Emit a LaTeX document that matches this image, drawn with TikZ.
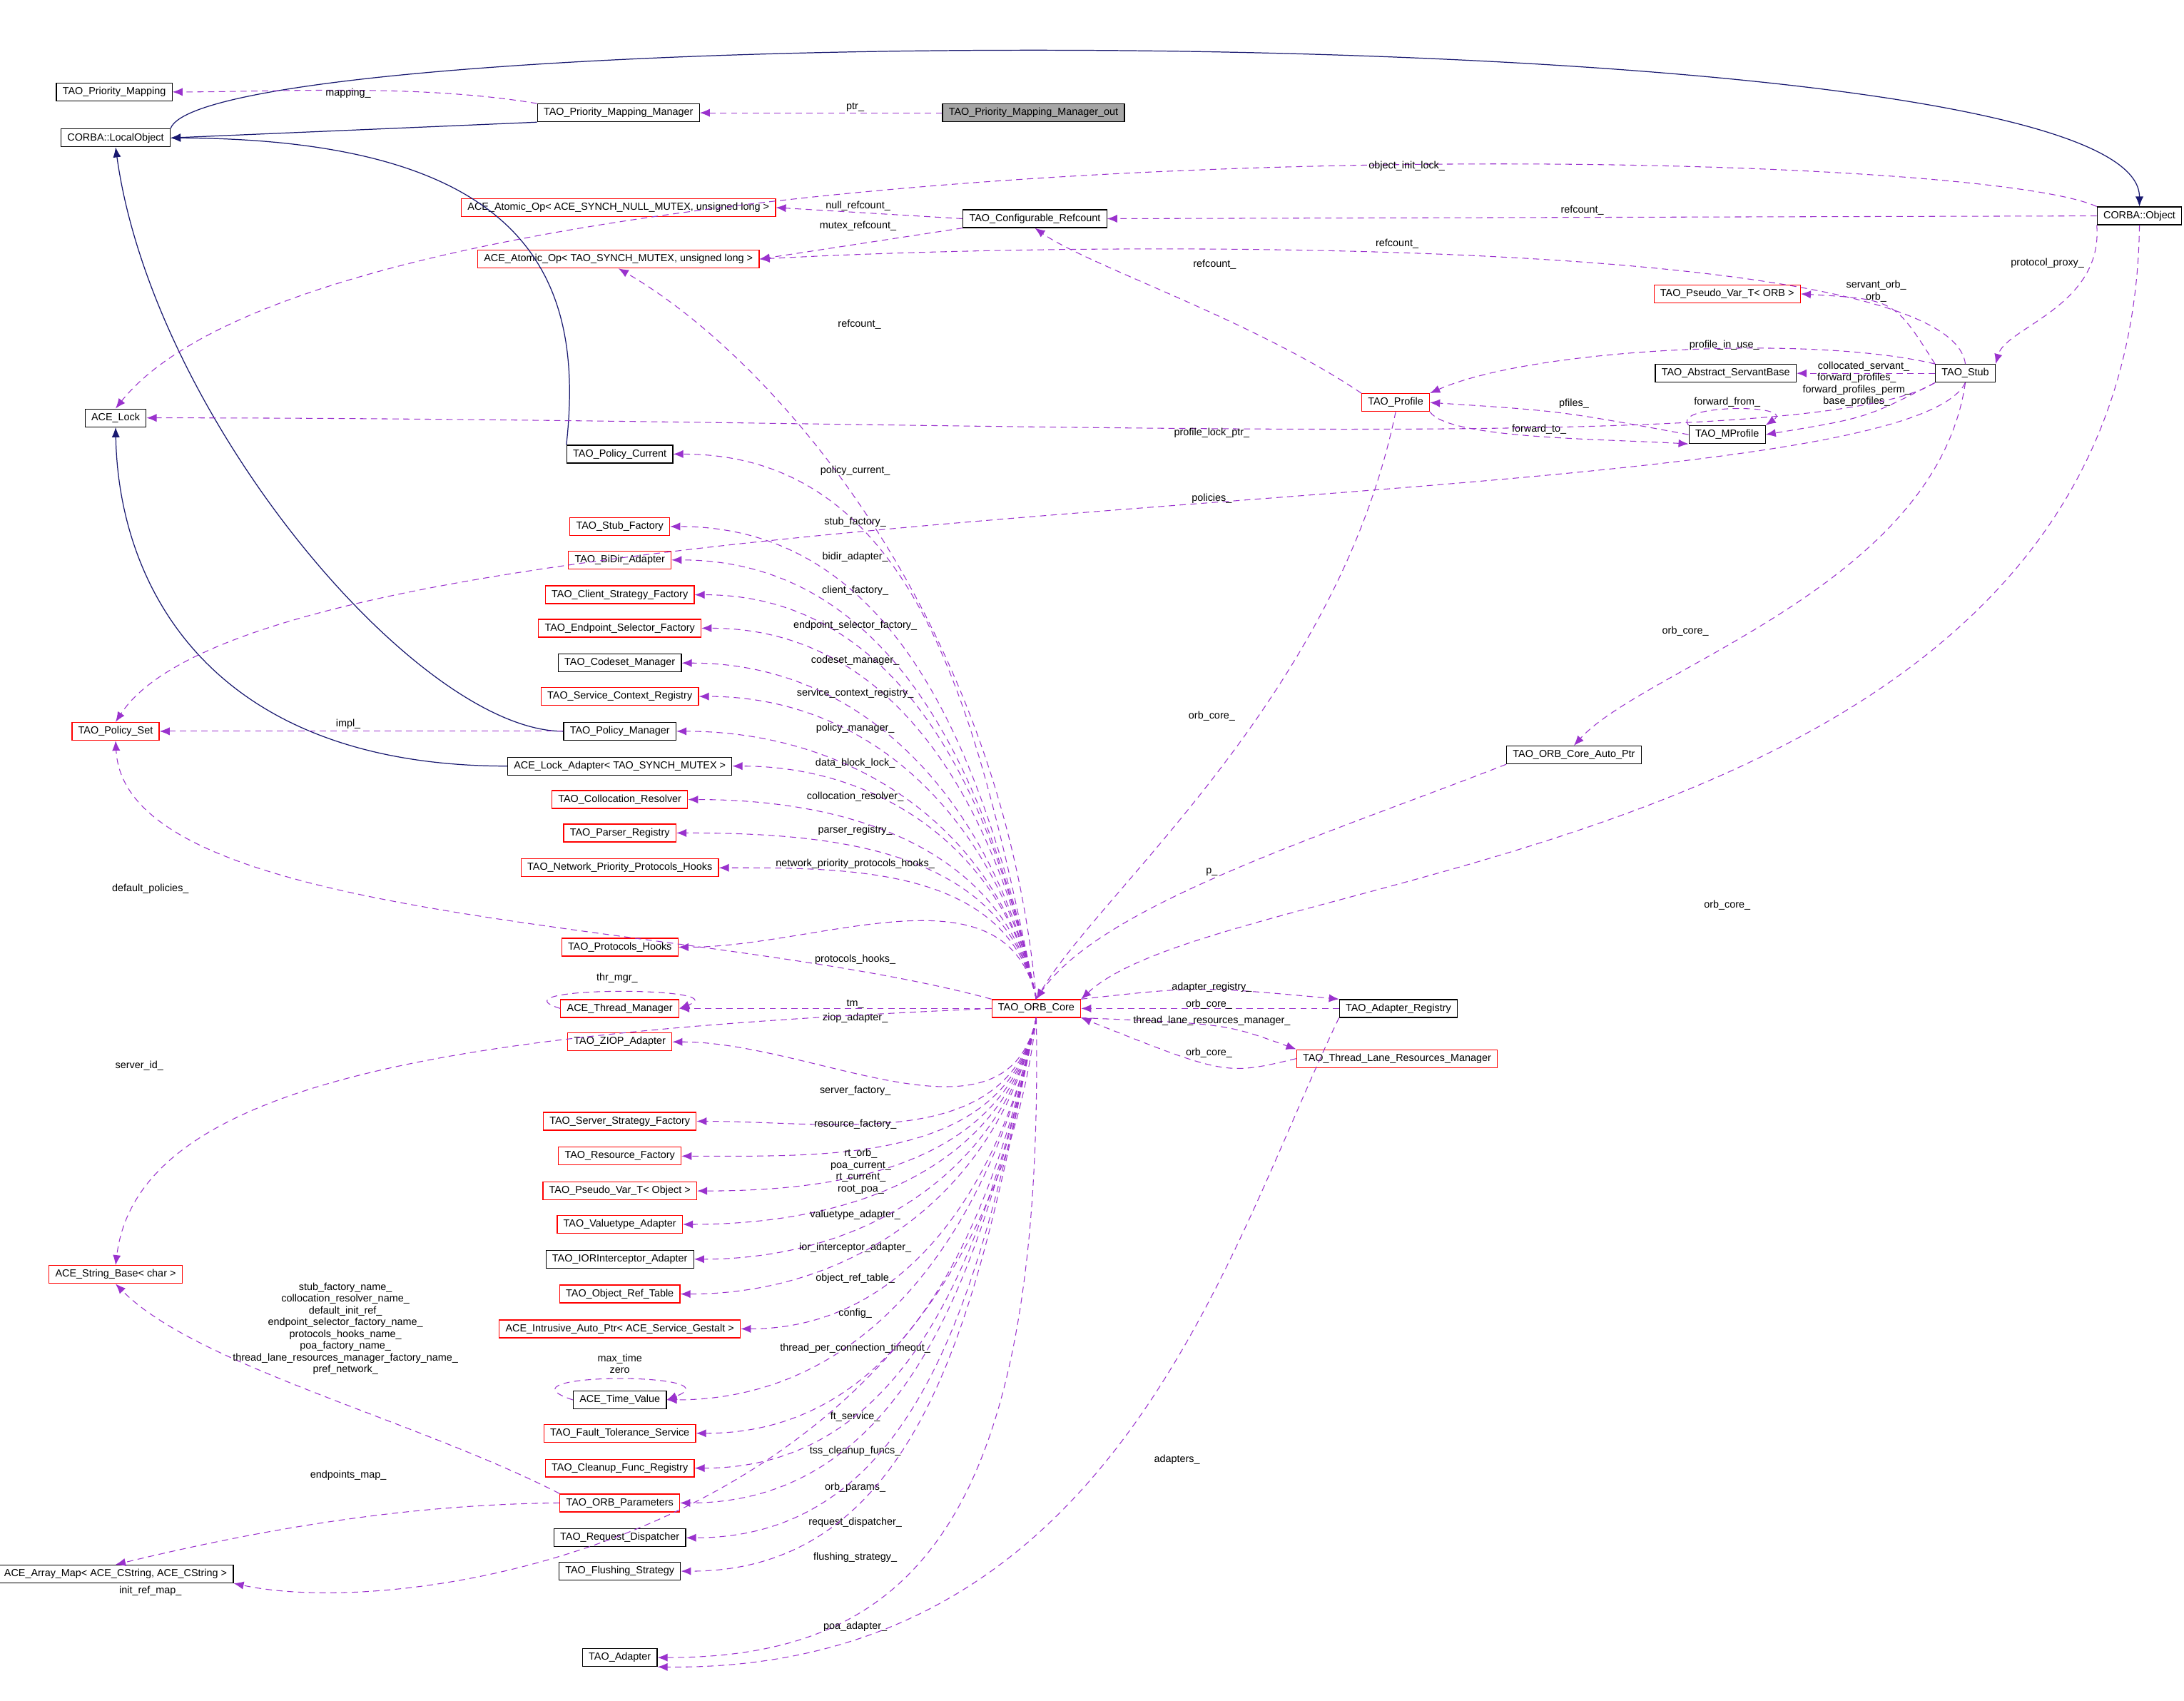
\documentclass[tikz,border=0pt]{standalone}
\usepackage{fontspec}
\setmainfont{Liberation Sans}
\usetikzlibrary{arrows.meta}
\definecolor{navy}{HTML}{191970}
\definecolor{refpurple}{HTML}{9A32CD}
\tikzset{
  cls/.style={draw=black,line width=0.35pt,fill=white,minimum height=0.25cm,inner xsep=2.5pt,inner ysep=0pt,font=\fontsize{4.1}{4.7}\selectfont},
  bad/.style={cls,draw=red},
  outbox/.style={cls,fill=black!35},
  inh/.style={draw=navy,line width=0.35pt,-{Latex[length=4pt,width=3.2pt]}},
  ref/.style={draw=refpurple,line width=0.3pt,dash pattern=on 2.5pt off 1.8pt,-{Latex[length=4pt,width=3.2pt]}},
  lbl/.style={inner sep=0pt,align=center,font=\fontsize{4.1}{4.7}\selectfont}
}
\begin{document}
\catcode`\_=12
\begin{tikzpicture}[x=0.01953cm,y=-0.01953cm]
  \useasboundingbox[fill=white] (0,0) rectangle (1568,1221);

  % classes
  \node[cls] (mapping) at (82,66) {TAO_Priority_Mapping};
  \node[cls] (localobj) at (83,99) {CORBA::LocalObject};
  \node[cls] (mapmgr) at (444,81) {TAO_Priority_Mapping_Manager};
  \node[outbox] (mapout) at (742,81) {TAO_Priority_Mapping_Manager_out};
  \node[bad] (atomnull) at (444,149) {ACE_Atomic_Op< ACE_SYNCH_NULL_MUTEX, unsigned long >};
  \node[cls] (cfgref) at (743,157) {TAO_Configurable_Refcount};
  \node[bad] (atomtao) at (444,186) {ACE_Atomic_Op< TAO_SYNCH_MUTEX, unsigned long >};
  \node[cls] (corbaobj) at (1536,155) {CORBA::Object};
  \node[bad] (pvorb) at (1240,211) {TAO_Pseudo_Var_T< ORB >};
  \node[cls] (servantbase) at (1239,268) {TAO_Abstract_ServantBase};
  \node[cls] (stub) at (1411,268) {TAO_Stub};
  \node[cls] (acelock) at (83,300) {ACE_Lock};
  \node[bad] (profile) at (1002,289) {TAO_Profile};
  \node[cls] (mprofile) at (1240,312) {TAO_MProfile};
  \node[bad] (polset) at (83,525) {TAO_Policy_Set};
  \node[cls] (autoptr) at (1130,542) {TAO_ORB_Core_Auto_Ptr};
  \node[bad] (core) at (744,724) {TAO_ORB_Core};
  \node[cls] (adapreg) at (1004,724) {TAO_Adapter_Registry};
  \node[bad] (tlrm) at (1003,760) {TAO_Thread_Lane_Resources_Manager};
  \node[bad] (strbase) at (83,915) {ACE_String_Base< char >};
  \node[cls] (arraymap) at (83,1130) {ACE_Array_Map< ACE_CString, ACE_CString >};
  \node[cls] (adapter) at (445,1190) {TAO_Adapter};
  \foreach \nm/\yy/\st/\tx in {
      polcur/326/cls/TAO_Policy_Current,
      stubfac/378/bad/TAO_Stub_Factory,
      bidir/402/bad/TAO_BiDir_Adapter,
      clientfac/427/bad/TAO_Client_Strategy_Factory,
      endpsel/451/bad/TAO_Endpoint_Selector_Factory,
      codeset/476/cls/TAO_Codeset_Manager,
      svcctx/500/bad/TAO_Service_Context_Registry,
      polmgr/525/cls/TAO_Policy_Manager,
      lockadapt/550/cls/ACE_Lock_Adapter< TAO_SYNCH_MUTEX >,
      colres/574/bad/TAO_Collocation_Resolver,
      parser/598/bad/TAO_Parser_Registry,
      netprio/623/bad/TAO_Network_Priority_Protocols_Hooks,
      protohooks/680/bad/TAO_Protocols_Hooks,
      thrmgr/724/bad/ACE_Thread_Manager,
      ziop/748/bad/TAO_ZIOP_Adapter,
      serverfac/805/bad/TAO_Server_Strategy_Factory,
      resfac/830/bad/TAO_Resource_Factory,
      pvobj/855/bad/TAO_Pseudo_Var_T< Object >,
      valuetype/879/bad/TAO_Valuetype_Adapter,
      iorint/904/cls/TAO_IORInterceptor_Adapter,
      objref/929/bad/TAO_Object_Ref_Table,
      gestalt/954/bad/ACE_Intrusive_Auto_Ptr< ACE_Service_Gestalt >,
      timeval/1005/cls/ACE_Time_Value,
      ftserv/1029/bad/TAO_Fault_Tolerance_Service,
      cleanup/1054/bad/TAO_Cleanup_Func_Registry,
      orbparams/1079/bad/TAO_ORB_Parameters,
      reqdisp/1104/cls/TAO_Request_Dispatcher,
      flush/1128/cls/TAO_Flushing_Strategy}
    \node[\st] (\nm) at (445,\yy) {\tx};

  % inheritance
  \draw[inh] (localobj.north east) .. controls (150,15) and (1536,5) .. (corbaobj.north);
  \draw[inh] (mapmgr.south west) -- (localobj.east);
  \draw[inh] (polcur.north west) .. controls (420,200) and (380,100) .. (localobj.east);
  \draw[inh] (polmgr.west) .. controls (300,525) and (110,300) .. (localobj.south);
  \draw[inh] (lockadapt.west) .. controls (150,550) and (85,420) .. (acelock.south);

  % members
  \draw[ref] (mapmgr.north west) .. controls (300,60) and (200,66) .. (mapping.east);
  \node[lbl] at (250,67) {mapping_};
  \draw[ref] (mapout.west) -- (mapmgr.east);
  \node[lbl] at (614,77) {ptr_};
  \draw[ref] (corbaobj.north west) .. controls (1400,100) and (250,85) .. (acelock.north);
  \node[lbl] at (1010,119) {object_init_lock_};
  \draw[ref] (corbaobj.west) -- (cfgref.east);
  \node[lbl] at (1136,151) {refcount_};
  \draw[ref] (cfgref.west) -- (atomnull.east);
  \node[lbl] at (616,148) {null_refcount_};
  \draw[ref] (cfgref.south west) -- (atomtao.east);
  \node[lbl] at (616,162) {mutex_refcount_};
  \draw[ref] (stub.north) .. controls (1400,170) and (800,172) .. (atomtao.east);
  \node[lbl] at (1003,175) {refcount_};
  \draw[ref] (profile.north west) .. controls (900,230) and (780,190) .. (cfgref.south);
  \node[lbl] at (872,190) {refcount_};
  \draw[ref] (core.north) .. controls (720,450) and (560,260) .. (atomtao.south);
  \node[lbl] at (617,233) {refcount_};
  \draw[ref] (corbaobj.south west) .. controls (1510,220) and (1440,235) .. (stub.north east);
  \node[lbl] at (1470,189) {protocol_proxy_};
  \draw[ref] (stub.north west) .. controls (1360,215) .. (pvorb.east);
  \node[lbl] at (1347,209) {servant_orb_\\orb_};
  \draw[ref] (stub.west) -- (servantbase.east);
  \node[lbl] at (1338,263) {collocated_servant_};
  \draw[ref] (stub.north west) .. controls (1300,240) and (1100,250) .. (profile.north east);
  \node[lbl] at (1238,248) {profile_in_use_};
  \draw[ref] (stub.south west) .. controls (1340,300) .. (mprofile.east);
  \node[lbl] at (1333,280) {forward_profiles_\\forward_profiles_perm_\\base_profiles_};
  \draw[ref] (mprofile.north west) .. controls (1200,290) and (1290,290) .. (mprofile.north east);
  \node[lbl] at (1240,289) {forward_from_};
  \draw[ref] (mprofile.west) .. controls (1120,295) .. (profile.east);
  \node[lbl] at (1130,290) {pfiles_};
  \draw[ref] (profile.south east) .. controls (1040,315) and (1150,315) .. (mprofile.south west);
  \node[lbl] at (1105,308) {forward_to_};
  \draw[ref] (stub.south west) .. controls (1300,330) and (700,300) .. (acelock.east);
  \node[lbl] at (870,311) {profile_lock_ptr_};
  \draw[ref] (stub.south) .. controls (1360,380) and (200,340) .. (polset.north);
  \node[lbl] at (870,358) {policies_};
  \draw[ref] (stub.south) .. controls (1390,420) and (1180,480) .. (autoptr.north);
  \node[lbl] at (1210,453) {orb_core_};
  \draw[ref] (profile.south) .. controls (960,500) and (790,640) .. (core.north);
  \node[lbl] at (870,514) {orb_core_};
  \draw[ref] (corbaobj.south) .. controls (1530,620) and (880,620) .. (core.north east);
  \node[lbl] at (1240,650) {orb_core_};
  \draw[ref] (autoptr.south west) .. controls (950,600) and (790,650) .. (core.north);
  \node[lbl] at (870,626) {p_};
  \draw[ref] (polmgr.west) -- (polset.east);
  \node[lbl] at (250,520) {impl_};
  \draw[ref] (core.north west) .. controls (500,660) and (90,665) .. (polset.south);
  \node[lbl] at (108,638) {default_policies_};

  % members of the ORB core, left column
  \foreach \nm/\ly/\tx in {
      polcur/338/policy_current_, stubfac/375/stub_factory_,
      bidir/400/bidir_adapter_, clientfac/424/client_factory_,
      endpsel/449/endpoint_selector_factory_, codeset/474/codeset_manager_,
      svcctx/498/service_context_registry_, polmgr/523/policy_manager_,
      lockadapt/548/data_block_lock_, colres/572/collocation_resolver_,
      parser/596/parser_registry_, netprio/620/network_priority_protocols_hooks_,
      protohooks/689/protocols_hooks_}
  {
    \draw[ref] (core.north) to[out=102,in=0] (\nm.east);
    \node[lbl] at (614,\ly) {\tx};
  }
  \foreach \nm/\ly/\tx in {
      ziop/731/ziop_adapter_, serverfac/783/server_factory_,
      resfac/807/resource_factory_, valuetype/872/valuetype_adapter_,
      iorint/896/ior_interceptor_adapter_, objref/918/object_ref_table_,
      gestalt/943/config_, timeval/968/thread_per_connection_timeout_,
      ftserv/1017/ft_service_, cleanup/1042/tss_cleanup_funcs_,
      orbparams/1068/orb_params_, reqdisp/1093/request_dispatcher_,
      flush/1118/flushing_strategy_}
  {
    \draw[ref] (core.south) to[out=258,in=0] (\nm.east);
    \node[lbl] at (614,\ly) {\tx};
  }
  \draw[ref] (core.south) to[out=258,in=0] (pvobj.east);
  \node[lbl] at (618,841) {rt_orb_\\poa_current_\\rt_current_\\root_poa_};
  \draw[ref] (core.west) -- (thrmgr.east);
  \node[lbl] at (614,721) {tm_};
  \draw[ref] (thrmgr.west) .. controls (350,708) and (530,708) .. (thrmgr.east);
  \node[lbl] at (443,702) {thr_mgr_};
  \draw[ref] (timeval.west) .. controls (350,985) and (530,985) .. (timeval.east);
  \node[lbl] at (445,979) {max_time\\zero};
  \draw[ref] (core.west) .. controls (350,740) and (100,770) .. (strbase.north);
  \node[lbl] at (100,765) {server_id_};
  \draw[ref] (orbparams.north west) .. controls (300,1020) and (140,980) .. (strbase.south);
  \node[lbl] at (248,954) {stub_factory_name_\\collocation_resolver_name_\\default_init_ref_\\endpoint_selector_factory_name_\\protocols_hooks_name_\\poa_factory_name_\\thread_lane_resources_manager_factory_name_\\pref_network_};
  \draw[ref] (orbparams.west) .. controls (300,1080) and (200,1095) .. (arraymap.north);
  \node[lbl] at (250,1059) {endpoints_map_};
  \draw[ref] (core.south) .. controls (700,1100) and (300,1165) .. (arraymap.south east);
  \node[lbl] at (108,1142) {init_ref_map_};
  \draw[ref] (core.south) .. controls (750,1100) and (650,1190) .. (adapter.east);
  \node[lbl] at (614,1168) {poa_adapter_};
  \draw[ref] (adapreg.south west) .. controls (880,900) and (800,1200) .. (adapter.south east);
  \node[lbl] at (845,1048) {adapters_};
  \draw[ref] (core.north east) .. controls (860,708) .. (adapreg.north west);
  \node[lbl] at (870,709) {adapter_registry_};
  \draw[ref] (adapreg.west) -- (core.east);
  \node[lbl] at (868,721) {orb_core_};
  \draw[ref] (core.south east) .. controls (880,735) .. (tlrm.north west);
  \node[lbl] at (870,733) {thread_lane_resources_manager_};
  \draw[ref] (tlrm.west) .. controls (880,772) .. (core.south east);
  \node[lbl] at (868,756) {orb_core_};
\end{tikzpicture}
\end{document}
